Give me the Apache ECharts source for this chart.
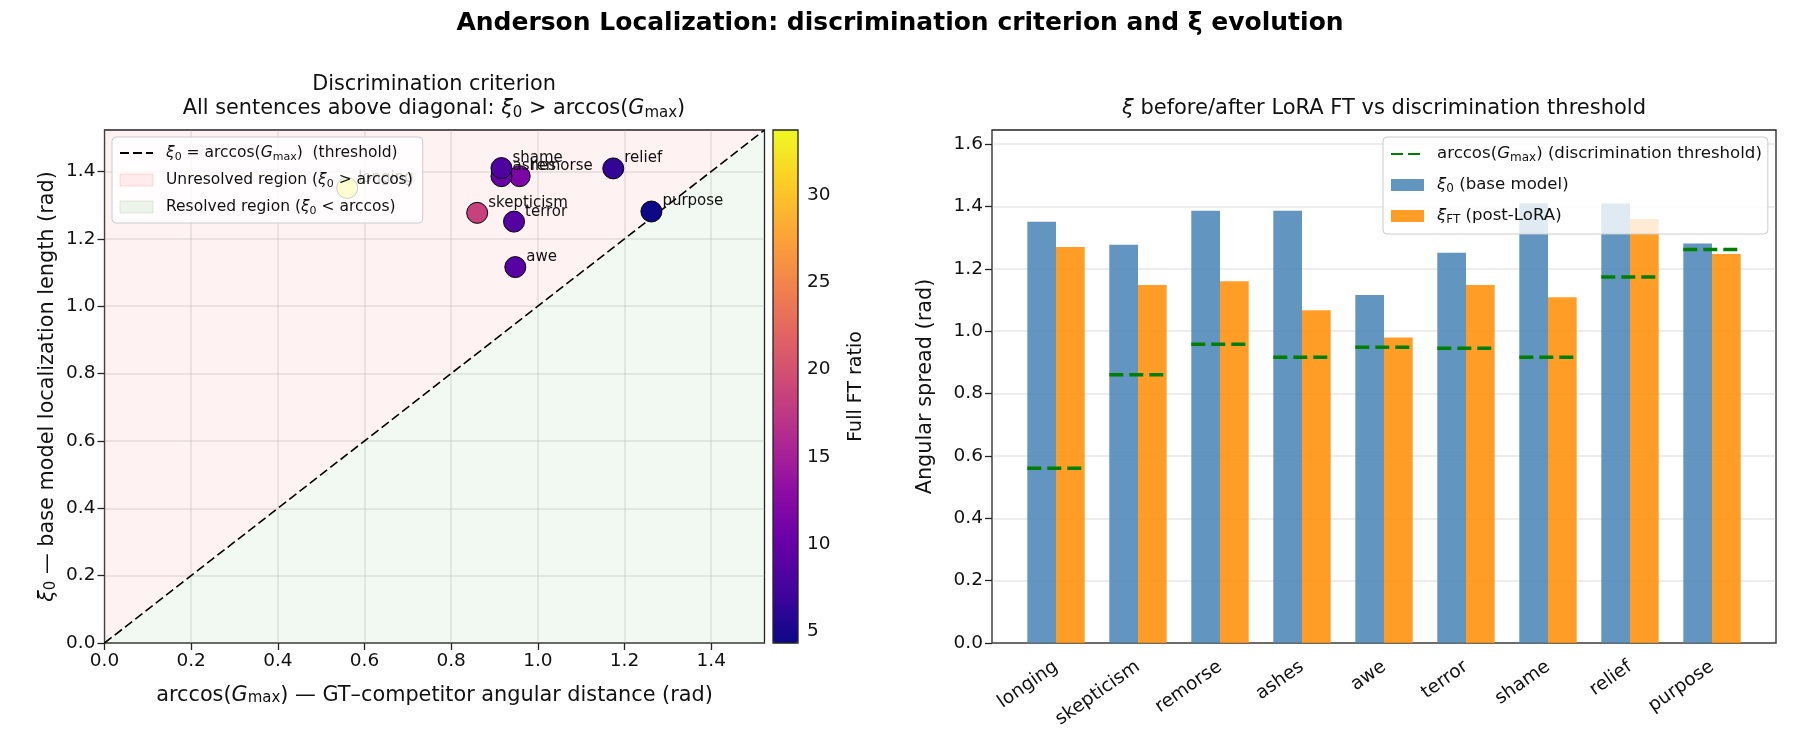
<!DOCTYPE html>
<html>
<head>
<meta charset="utf-8">
<script src="https://cdn.jsdelivr.net/npm/echarts@6/dist/echarts.min.js"></script>
<style>
html, body { margin: 0; padding: 0; background: #fff; }
#chart { width: 1800px; height: 750px; }
</style>
</head>
<body>
<div id="chart"></div>
<script>
// 数据（从图上读出来的）
const categories = ['longing', 'skepticism', 'remorse', 'ashes', 'awe', 'terror', 'shame', 'relief', 'purpose'];
const xi0 = [1.351, 1.277, 1.386, 1.386, 1.116, 1.251, 1.410, 1.409, 1.281];
const xiFT = [1.270, 1.148, 1.160, 1.067, 0.980, 1.148, 1.109, 1.360, 1.247];
const arccosG = [0.560, 0.860, 0.958, 0.916, 0.948, 0.945, 0.916, 1.174, 1.262];
const ftRatio = [33.74, 18.5, 11.7, 10.2, 9.0, 8.7, 8.2, 6.4, 4.33];

const scatterTicks = [0, 0.2, 0.4, 0.6, 0.8, 1.0, 1.2, 1.4];
const barTicks = [0, 0.2, 0.4, 0.6, 0.8, 1.0, 1.2, 1.4, 1.6];
const cbarTicks = [5, 10, 15, 20, 25, 30];

const scatterMax = 1.523;
const barMax = 1.645;
const cbarMin = 4.33, cbarMax = 33.74;

const plasma = ['#0d0887', '#41049d', '#6a00a8', '#8f0da4', '#b12a90', '#cc4778',
  '#e16462', '#f2844b', '#fca636', '#fcce25', '#f0f921'];

const FONT = 'DejaVu Sans';
const TICK = 18.5;
const LABEL = 20.8;
const gridLine = { show: true, lineStyle: { color: 'rgba(176,176,176,0.3)', width: 1.5 } };
const fmt1 = v => v.toFixed(1);

function rich(size) {
  return {
    i: { fontStyle: 'italic', fontSize: size, fontFamily: FONT, color: '#111' },
    s: { fontSize: Math.round(size * 0.7), fontFamily: FONT, verticalAlign: 'bottom', lineHeight: 10, color: '#111' }
  };
}

const legendText = {
  threshold: '{i|ξ}{s|0} = arccos({i|G}{s|max})  (threshold)',
  unresolved: 'Unresolved region ({i|ξ}{s|0} > arccos)',
  resolved: 'Resolved region ({i|ξ}{s|0} < arccos)',
  thr2: 'arccos({i|G}{s|max}) (discrimination threshold)',
  xi0: '{i|ξ}{s|0} (base model)',
  xift: '{i|ξ}{s|FT} (post-LoRA)'
};

const diag = [[0, 0], [scatterMax, scatterMax]];
const points = arccosG.map((x, i) => [x, xi0[i], ftRatio[i], categories[i]]);

function legendBase(size) {
  return {
    orient: 'vertical',
    itemWidth: 33,
    itemHeight: 12,
    itemGap: 7,
    backgroundColor: 'rgba(255,255,255,0.8)',
    borderColor: '#cccccc',
    borderWidth: 1,
    borderRadius: 4,
    selectedMode: false,
    textStyle: { fontSize: size, lineHeight: 20, color: '#111', fontFamily: FONT, padding: [0, 0, 0, 8], rich: rich(size) },
    formatter: name => legendText[name]
  };
}

const chart = echarts.init(document.getElementById('chart'));

const option = {
  animation: false,
  backgroundColor: '#fff',
  textStyle: { fontFamily: FONT },
  title: [
    {
      text: 'Anderson Localization: discrimination criterion and ξ evolution',
      left: 900, top: 11, textAlign: 'center', padding: 0,
      textStyle: { fontSize: 25, fontWeight: 'bold', color: '#000', fontFamily: FONT }
    },
    {
      text: 'Discrimination criterion\nAll sentences above diagonal: {i|ξ}{s|0} > arccos({i|G}{s|max})',
      left: 434, top: 73, textAlign: 'center', padding: 0,
      textStyle: { fontSize: LABEL, lineHeight: 24, fontWeight: 'normal', color: '#111', fontFamily: FONT, rich: rich(LABEL) }
    },
    {
      text: '{i|ξ} before/after LoRA FT vs discrimination threshold',
      left: 1384, top: 97, textAlign: 'center', padding: 0,
      textStyle: { fontSize: 21, lineHeight: 24, fontWeight: 'normal', color: '#111', fontFamily: FONT, rich: rich(21) }
    }
  ],
  grid: [
    { left: 104.5, top: 130, width: 660, height: 513, show: true, borderColor: '#222', borderWidth: 1.3, backgroundColor: '#fff' },
    { left: 773, top: 130, width: 25, height: 513, show: true, borderColor: '#222', borderWidth: 1.3, z: 10 },
    { left: 992, top: 130, width: 784, height: 513, show: true, borderColor: '#222', borderWidth: 1.3, backgroundColor: '#fff' },
    { left: 1015, top: 130, width: 738, height: 513 }
  ],
  xAxis: [
    {
      gridIndex: 0, type: 'value', min: 0, max: scatterMax, interval: 0.2,
      axisLine: { show: false },
      axisTick: { customValues: scatterTicks, length: 7, lineStyle: { color: '#222', width: 1.3 } },
      axisLabel: { customValues: scatterTicks, formatter: fmt1, fontSize: TICK, color: '#111', margin: 9 },
      splitLine: gridLine,
      name: 'arccos({i|G}{s|max}) — GT–competitor angular distance (rad)',
      nameLocation: 'middle', nameGap: 42,
      nameTextStyle: { fontSize: LABEL, color: '#111', fontFamily: FONT, rich: rich(LABEL) }
    },
    { gridIndex: 1, type: 'value', show: false },
    { gridIndex: 2, type: 'value', min: 0, max: 1, show: false },
    {
      gridIndex: 3, type: 'category', data: categories,
      axisLine: { show: false },
      axisTick: { alignWithLabel: true, length: 7, lineStyle: { color: '#222', width: 1.3 } },
      axisLabel: { rotate: 35, fontSize: TICK, color: '#111', margin: 22, interval: 0 },
      splitLine: { show: false }
    }
  ],
  yAxis: [
    {
      gridIndex: 0, type: 'value', min: 0, max: scatterMax, interval: 0.2,
      axisLine: { show: false },
      axisTick: { customValues: scatterTicks, length: 7, lineStyle: { color: '#222', width: 1.3 } },
      axisLabel: { customValues: scatterTicks, formatter: fmt1, fontSize: TICK, color: '#111', margin: 9 },
      splitLine: gridLine,
      name: '{i|ξ}{s|0} — base model localization length (rad)',
      nameLocation: 'middle', nameGap: 46, nameRotate: 90,
      nameTextStyle: { fontSize: LABEL, color: '#111', fontFamily: FONT, rich: rich(LABEL) }
    },
    {
      gridIndex: 1, type: 'value', position: 'right', min: cbarMin, max: cbarMax,
      axisLine: { show: false },
      axisTick: { customValues: cbarTicks, length: 7, lineStyle: { color: '#222', width: 1.3 } },
      axisLabel: { customValues: cbarTicks, fontSize: TICK, color: '#111', margin: 9 },
      splitLine: { show: false },
      name: 'Full FT ratio', nameLocation: 'middle', nameGap: 49, nameRotate: 90,
      nameTextStyle: { fontSize: 19, color: '#111', fontFamily: FONT }
    },
    {
      gridIndex: 2, type: 'value', min: 0, max: barMax, interval: 0.2,
      axisLine: { show: false },
      axisTick: { customValues: barTicks, length: 7, lineStyle: { color: '#222', width: 1.3 } },
      axisLabel: { customValues: barTicks, formatter: fmt1, fontSize: TICK, color: '#111', margin: 9 },
      splitLine: gridLine,
      name: 'Angular spread (rad)', nameLocation: 'middle', nameGap: 56, nameRotate: 90,
      nameTextStyle: { fontSize: LABEL, color: '#111', fontFamily: FONT }
    },
    { gridIndex: 3, type: 'value', min: 0, max: barMax, show: false }
  ],
  visualMap: {
    type: 'continuous', seriesIndex: 3, dimension: 2,
    min: cbarMin, max: cbarMax, inRange: { color: plasma },
    calculable: false, hoverLink: false,
    left: 773, top: 130, itemWidth: 25, itemHeight: 513, padding: 0
  },
  legend: [
    Object.assign(legendBase(15.5), {
      left: 112, top: 137, padding: [6, 10, 6, 7],
      data: [
        { name: 'threshold', itemStyle: { color: 'rgba(0,0,0,0)', borderWidth: 0 } },
        { name: 'unresolved', icon: 'rect', itemStyle: { color: 'rgba(255,0,0,0.07)', borderColor: 'rgba(255,0,0,0.12)', borderWidth: 1 } },
        { name: 'resolved', icon: 'rect', itemStyle: { color: 'rgba(0,128,0,0.07)', borderColor: 'rgba(0,128,0,0.12)', borderWidth: 1 } }
      ]
    }),
    Object.assign(legendBase(16.6), {
      left: 1383, top: 137, itemGap: 11, padding: [7, 6, 8, 7],
      data: [
        { name: 'thr2', itemStyle: { color: 'rgba(0,0,0,0)', borderWidth: 0 } },
        { name: 'xi0', icon: 'rect' },
        { name: 'xift', icon: 'rect' }
      ]
    })
  ],
  series: [
    {
      name: 'unresolved', type: 'line', xAxisIndex: 0, yAxisIndex: 0, data: diag,
      symbol: 'none', silent: true, z: 1,
      lineStyle: { width: 0 },
      areaStyle: { color: 'rgba(255,0,0,0.07)', origin: 'end' }
    },
    {
      name: 'resolved', type: 'line', xAxisIndex: 0, yAxisIndex: 0, data: diag,
      symbol: 'none', silent: true, z: 1,
      lineStyle: { width: 0 },
      areaStyle: { color: 'rgba(0,128,0,0.07)', origin: 'start' }
    },
    {
      name: 'threshold', type: 'line', xAxisIndex: 0, yAxisIndex: 0, data: diag,
      symbol: 'none', silent: true, z: 2,
      itemStyle: { color: '#000' },
      lineStyle: { color: '#000', width: 1.6, type: [9, 4] }
    },
    {
      name: 'sentences', type: 'scatter', xAxisIndex: 0, yAxisIndex: 0, data: points,
      symbolSize: 21, z: 3,
      itemStyle: { borderColor: '#000', borderWidth: 1, opacity: 1 },
      label: {
        show: true, position: 'right', distance: 0, offset: [0, -10],
        formatter: p => p.data[3], fontSize: 15, color: '#111', fontFamily: FONT
      }
    },
    {
      name: 'xi0', type: 'bar', xAxisIndex: 3, yAxisIndex: 3, data: xi0,
      barWidth: '35%', barGap: '0%', itemStyle: { color: 'rgba(70,130,180,0.85)' }
    },
    {
      name: 'xift', type: 'bar', xAxisIndex: 3, yAxisIndex: 3, data: xiFT,
      barWidth: '35%', barGap: '0%', itemStyle: { color: 'rgba(255,140,0,0.85)' }
    },
    {
      name: 'thresholdMarks', type: 'custom', xAxisIndex: 3, yAxisIndex: 3, z: 4, silent: true,
      data: arccosG.map((v, i) => [i, v]),
      renderItem: function (params, api) {
        const p = api.coord([api.value(0), api.value(1)]);
        const w = api.size([1, 0])[0] * 0.7;
        return {
          type: 'line',
          shape: { x1: p[0] - w / 2, y1: p[1], x2: p[0] + w / 2, y2: p[1] },
          style: { stroke: '#008000', lineWidth: 3.5, lineDash: [14, 6] }
        };
      }
    },
    {
      name: 'thr2', type: 'line', xAxisIndex: 3, yAxisIndex: 3, data: [],
      symbol: 'none',
      itemStyle: { color: '#008000' },
      lineStyle: { color: '#008000', width: 3.5, type: [12, 5] }
    }
  ]
};

chart.setOption(option);
</script>
</body>
</html>
